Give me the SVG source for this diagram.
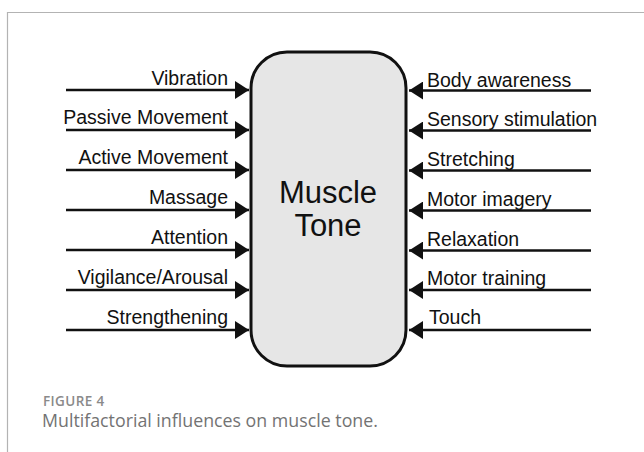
<svg xmlns="http://www.w3.org/2000/svg" width="644" height="452" viewBox="0 0 644 452">
<defs>
<style>
.lbl{font-family:"Liberation Sans",Arial,sans-serif;font-size:19.5px;fill:#111}
.l{text-anchor:end}
.ln{stroke:#111;stroke-width:2.6;fill:none}
.ah{fill:#111}
.cap1{font-family:"Open Sans",sans-serif;font-size:13.5px;font-weight:600;fill:#8a8a8a;letter-spacing:0.4px}
.cap2{font-family:"Open Sans",sans-serif;font-size:17.8px;fill:#737373}
</style>
<marker id="arr" viewBox="0 0 14 18" refX="14" refY="9" markerWidth="14" markerHeight="18" markerUnits="userSpaceOnUse" orient="auto">
<path d="M0,0 L14,9 L0,18 Z" class="ah"/>
</marker>
</defs>
<rect width="644" height="452" fill="#fff"/>
<path d="M7.5,452 V12.5 H644" stroke="#b3b3b3" stroke-width="1.2" fill="none"/>

<g id="muscle-tone">
<rect x="251" y="52" width="155" height="314" rx="36" ry="36" fill="#e6e6e6" stroke="#111" stroke-width="3"/>
<text x="328" y="202.5" text-anchor="middle" font-family="Liberation Sans, Arial, sans-serif" font-size="31" fill="#111">Muscle</text>
<text x="328" y="236" text-anchor="middle" font-family="Liberation Sans, Arial, sans-serif" font-size="31" fill="#111">Tone</text>
</g>

<g id="connectors">
<line class="ln" x1="66" y1="90" x2="249" y2="90" marker-end="url(#arr)"/>
<line class="ln" x1="66" y1="130" x2="249" y2="130" marker-end="url(#arr)"/>
<line class="ln" x1="66" y1="170" x2="249" y2="170" marker-end="url(#arr)"/>
<line class="ln" x1="66" y1="210" x2="249" y2="210" marker-end="url(#arr)"/>
<line class="ln" x1="66" y1="250" x2="249" y2="250" marker-end="url(#arr)"/>
<line class="ln" x1="66" y1="290" x2="249" y2="290" marker-end="url(#arr)"/>
<line class="ln" x1="66" y1="330" x2="249" y2="330" marker-end="url(#arr)"/>
<line class="ln" x1="591" y1="90.5" x2="409" y2="90.5" marker-end="url(#arr)"/>
<line class="ln" x1="591" y1="130.5" x2="409" y2="130.5" marker-end="url(#arr)"/>
<line class="ln" x1="591" y1="170.5" x2="409" y2="170.5" marker-end="url(#arr)"/>
<line class="ln" x1="591" y1="210.5" x2="409" y2="210.5" marker-end="url(#arr)"/>
<line class="ln" x1="591" y1="250.5" x2="409" y2="250.5" marker-end="url(#arr)"/>
<line class="ln" x1="591" y1="290" x2="409" y2="290" marker-end="url(#arr)"/>
<line class="ln" x1="591" y1="330" x2="409" y2="330" marker-end="url(#arr)"/>
</g>

<g id="in-vibration"><text class="lbl l" x="228" y="84.5">Vibration</text></g>
<g id="in-passive"><text class="lbl l" x="228" y="124">Passive Movement</text></g>
<g id="in-active"><text class="lbl l" x="228" y="164">Active Movement</text></g>
<g id="in-massage"><text class="lbl l" x="228" y="204">Massage</text></g>
<g id="in-attention"><text class="lbl l" x="228" y="244">Attention</text></g>
<g id="in-vigilance"><text class="lbl l" x="228" y="284">Vigilance/Arousal</text></g>
<g id="in-strengthening"><text class="lbl l" x="228" y="324">Strengthening</text></g>

<g id="in-body"><text class="lbl" x="427" y="86.5">Body awareness</text></g>
<g id="in-sensory"><text class="lbl" x="427" y="126">Sensory stimulation</text></g>
<g id="in-stretching"><text class="lbl" x="427" y="166">Stretching</text></g>
<g id="in-imagery"><text class="lbl" x="427" y="206">Motor imagery</text></g>
<g id="in-relaxation"><text class="lbl" x="427" y="246">Relaxation</text></g>
<g id="in-training"><text class="lbl" x="427" y="285">Motor training</text></g>
<g id="in-touch"><text class="lbl" x="429" y="324">Touch</text></g>

<text class="cap1" x="43" y="405.5">FIGURE 4</text>
<text class="cap2" x="42" y="427">Multifactorial influences on muscle tone.</text>
</svg>
